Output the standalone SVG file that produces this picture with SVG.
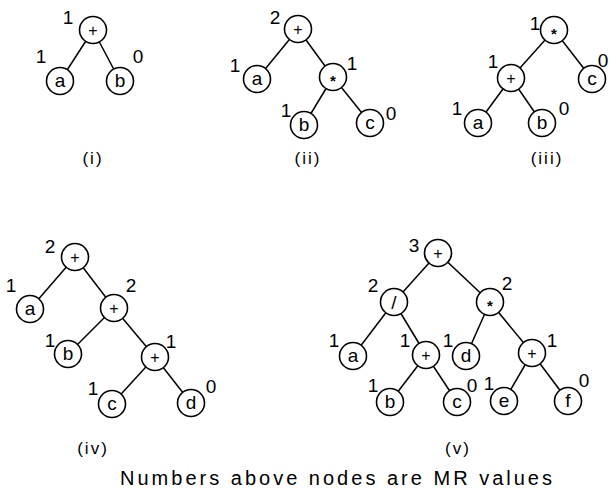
<svg xmlns="http://www.w3.org/2000/svg" width="610" height="489" viewBox="0 0 610 489">
<style>
.n circle{fill:#fff;stroke:#000;stroke-width:1.6}
.lt{font-family:"Liberation Sans",Arial,sans-serif;font-size:19px;text-anchor:middle;fill:#000}
.op{font-family:"Liberation Sans",Arial,sans-serif;font-size:16px;text-anchor:middle;fill:#000}
.ast{font-family:"Liberation Sans",Arial,sans-serif;font-size:15px;font-weight:bold;text-anchor:middle;fill:#000}
.mr{font-family:"Liberation Sans",Arial,sans-serif;font-size:19px;text-anchor:middle;fill:#000}
.cap{font-family:"Liberation Sans",Arial,sans-serif;font-size:17px;text-anchor:middle;fill:#000;letter-spacing:2px}
.edges line{stroke:#000;stroke-width:1.5}
</style>
<g id="connectors" class="edges">
<line x1="93" y1="30" x2="60" y2="81"/><line x1="93" y1="30" x2="120" y2="81"/>
<line x1="298" y1="29" x2="257" y2="79"/><line x1="298" y1="29" x2="333" y2="77"/><line x1="333" y1="77" x2="304" y2="125"/><line x1="333" y1="77" x2="370" y2="123"/>
<line x1="554" y1="30" x2="511" y2="78"/><line x1="554" y1="30" x2="592" y2="79"/><line x1="511" y1="78" x2="478" y2="123"/><line x1="511" y1="78" x2="542" y2="123"/>
<line x1="75" y1="257" x2="30" y2="309"/><line x1="75" y1="257" x2="114" y2="308"/><line x1="114" y1="308" x2="68" y2="354"/><line x1="114" y1="308" x2="155" y2="357"/><line x1="155" y1="357" x2="112" y2="404"/><line x1="155" y1="357" x2="191" y2="403"/>
<line x1="438" y1="253" x2="394" y2="302"/><line x1="438" y1="253" x2="490" y2="302"/><line x1="394" y1="302" x2="353" y2="356"/><line x1="394" y1="302" x2="426" y2="355"/><line x1="490" y1="302" x2="466" y2="356"/><line x1="490" y1="302" x2="532" y2="353"/><line x1="426" y1="355" x2="390" y2="402"/><line x1="426" y1="355" x2="457" y2="402"/><line x1="532" y1="353" x2="504" y2="401"/><line x1="532" y1="353" x2="568" y2="401"/>
</g>
<!-- tree i -->
<g id="t1-plus" class="n"><circle cx="93" cy="30" r="13.5"/><text class="op" x="93" y="35.5">+</text><text class="mr" x="68" y="24">1</text></g>
<g id="t1-a" class="n"><circle cx="60" cy="81" r="13.5"/><text class="lt" x="60" y="87">a</text><text class="mr" x="41" y="63">1</text></g>
<g id="t1-b" class="n"><circle cx="120" cy="81" r="13.5"/><text class="lt" x="120" y="87">b</text><text class="mr" x="138" y="63">0</text></g>
<text class="cap" x="93" y="164">(i)</text>
<!-- tree ii -->
<g id="t2-plus" class="n"><circle cx="298" cy="29" r="13.5"/><text class="op" x="298" y="34.5">+</text><text class="mr" x="275" y="24">2</text></g>
<g id="t2-a" class="n"><circle cx="257" cy="79" r="13.5"/><text class="lt" x="257" y="85">a</text><text class="mr" x="235" y="72">1</text></g>
<g id="t2-mul" class="n"><circle cx="333" cy="77" r="13.5"/><text class="ast" x="333" y="86">*</text><text class="mr" x="352" y="70">1</text></g>
<g id="t2-b" class="n"><circle cx="304" cy="125" r="13.5"/><text class="lt" x="304" y="131">b</text><text class="mr" x="286" y="117">1</text></g>
<g id="t2-c" class="n"><circle cx="370" cy="123" r="13.5"/><text class="lt" x="370" y="129">c</text><text class="mr" x="391" y="120">0</text></g>
<text class="cap" x="308" y="164">(ii)</text>
<!-- tree iii -->
<g id="t3-mul" class="n"><circle cx="554" cy="30" r="13.5"/><text class="ast" x="554" y="39">*</text><text class="mr" x="535" y="30">1</text></g>
<g id="t3-plus" class="n"><circle cx="511" cy="78" r="13.5"/><text class="op" x="511" y="83.5">+</text><text class="mr" x="493" y="68">1</text></g>
<g id="t3-c" class="n"><circle cx="592" cy="79" r="13.5"/><text class="lt" x="592" y="85">c</text><text class="mr" x="603" y="67">0</text></g>
<g id="t3-a" class="n"><circle cx="478" cy="123" r="13.5"/><text class="lt" x="478" y="129">a</text><text class="mr" x="457" y="115">1</text></g>
<g id="t3-b" class="n"><circle cx="542" cy="123" r="13.5"/><text class="lt" x="542" y="129">b</text><text class="mr" x="564" y="115">0</text></g>
<text class="cap" x="547" y="164">(iii)</text>
<!-- tree iv -->
<g id="t4-plus1" class="n"><circle cx="75" cy="257" r="13.5"/><text class="op" x="75" y="262.5">+</text><text class="mr" x="50" y="253">2</text></g>
<g id="t4-a" class="n"><circle cx="30" cy="309" r="13.5"/><text class="lt" x="30" y="315">a</text><text class="mr" x="11" y="292">1</text></g>
<g id="t4-plus2" class="n"><circle cx="114" cy="308" r="13.5"/><text class="op" x="114" y="313.5">+</text><text class="mr" x="131" y="292">2</text></g>
<g id="t4-b" class="n"><circle cx="68" cy="354" r="13.5"/><text class="lt" x="68" y="360">b</text><text class="mr" x="50" y="347">1</text></g>
<g id="t4-plus3" class="n"><circle cx="155" cy="357" r="13.5"/><text class="op" x="155" y="362.5">+</text><text class="mr" x="171" y="348">1</text></g>
<g id="t4-c" class="n"><circle cx="112" cy="404" r="13.5"/><text class="lt" x="112" y="410">c</text><text class="mr" x="93" y="395">1</text></g>
<g id="t4-d" class="n"><circle cx="191" cy="403" r="13.5"/><text class="lt" x="191" y="409">d</text><text class="mr" x="211" y="393">0</text></g>
<text class="cap" x="93" y="454">(iv)</text>
<!-- tree v -->
<g id="t5-plus" class="n"><circle cx="438" cy="253" r="13.5"/><text class="op" x="438" y="258.5">+</text><text class="mr" x="414" y="252">3</text></g>
<g id="t5-div" class="n"><circle cx="394" cy="302" r="13.5"/><text class="lt" x="394" y="309">/</text><text class="mr" x="373" y="292">2</text></g>
<g id="t5-mul" class="n"><circle cx="490" cy="302" r="13.5"/><text class="ast" x="490" y="311">*</text><text class="mr" x="507" y="290">2</text></g>
<g id="t5-a" class="n"><circle cx="353" cy="356" r="13.5"/><text class="lt" x="353" y="362">a</text><text class="mr" x="334" y="347">1</text></g>
<g id="t5-plus2" class="n"><circle cx="426" cy="355" r="13.5"/><text class="op" x="426" y="360.5">+</text><text class="mr" x="405" y="347">1</text></g>
<g id="t5-d" class="n"><circle cx="466" cy="356" r="13.5"/><text class="lt" x="466" y="362">d</text><text class="mr" x="448" y="347">1</text></g>
<g id="t5-plus3" class="n"><circle cx="532" cy="353" r="13.5"/><text class="op" x="532" y="358.5">+</text><text class="mr" x="552" y="347">1</text></g>
<g id="t5-b" class="n"><circle cx="390" cy="402" r="13.5"/><text class="lt" x="390" y="408">b</text><text class="mr" x="373" y="392">1</text></g>
<g id="t5-c" class="n"><circle cx="457" cy="402" r="13.5"/><text class="lt" x="457" y="408">c</text><text class="mr" x="472" y="392">0</text></g>
<g id="t5-e" class="n"><circle cx="504" cy="401" r="13.5"/><text class="lt" x="504" y="407">e</text><text class="mr" x="489" y="390">1</text></g>
<g id="t5-f" class="n"><circle cx="568" cy="401" r="13.5"/><text class="lt" x="568" y="407">f</text><text class="mr" x="584" y="387">0</text></g>
<text class="cap" x="458" y="454">(v)</text>
<text id="caption" style="font-family:'Liberation Sans',Arial,sans-serif;font-size:20px;fill:#000" x="120" y="485" textLength="432" lengthAdjust="spacing">Numbers above nodes are MR values</text>
</svg>
